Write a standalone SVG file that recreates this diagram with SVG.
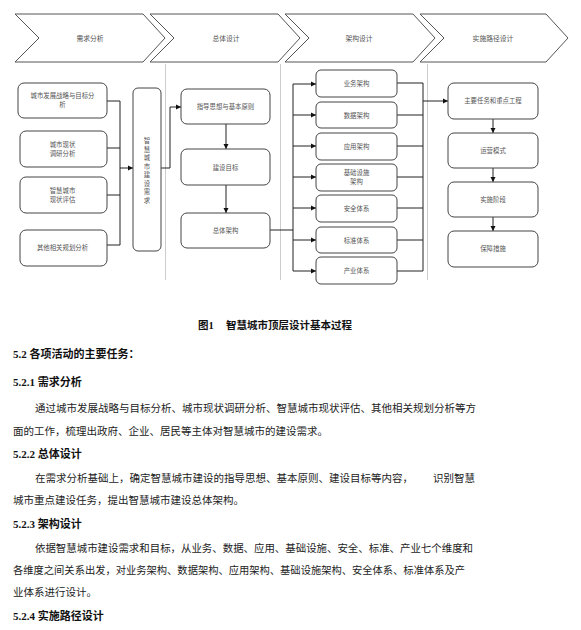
<svg xmlns="http://www.w3.org/2000/svg" width="581" height="630" viewBox="0 0 581 630">
<style>
.chev{fill:#fff;stroke:#555;stroke-width:1}
.box{fill:#fff;stroke:#444;stroke-width:1}
.sep{stroke:#ccc;stroke-width:1;fill:none}
.con{stroke:#222;stroke-width:1;fill:none}
.bt{font-family:"Noto Sans CJK SC","Liberation Sans",sans-serif;font-size:6.4px;fill:#555;text-anchor:middle}
.ct{font-family:"Noto Sans CJK SC","Liberation Sans",sans-serif;font-size:6.8px;fill:#555;text-anchor:middle}
.cap{font-family:"Liberation Serif","Noto Sans CJK SC",serif;font-size:10.5px;font-weight:bold;fill:#111}
.h{font-family:"Liberation Serif","Noto Sans CJK SC",serif;font-size:11px;font-weight:bold;fill:#111}
.p{font-family:"Liberation Serif","Noto Sans CJK SC",serif;font-size:10.5px;fill:#222}
</style>
<defs>
<marker id="ah" markerWidth="6" markerHeight="6" refX="5" refY="3" orient="auto" markerUnits="userSpaceOnUse">
<path d="M0,0.5 L5,3 L0,5.5 Z" fill="#111"/>
</marker>
</defs>
<rect width="581" height="630" fill="#fff"/>
<g id="phases">
<path class="chev" d="M15,14 H143 L165,38 L143,62 H15 L39,38 Z"/>
<path class="chev" d="M150,14 H278 L300,38 L278,62 H150 L174,38 Z"/>
<path class="chev" d="M285,14 H413 L435,38 L413,62 H285 L309,38 Z"/>
<path class="chev" d="M420,14 H546 L568,38 L546,62 H420 L444,38 Z"/>
<text class="ct" x="90" y="40.5">需求分析</text>
<text class="ct" x="226" y="40.5">总体设计</text>
<text class="ct" x="359" y="40.5">架构设计</text>
<text class="ct" x="493" y="40.5">实施路径设计</text>
</g>
<g id="separators">
<line class="sep" x1="165.5" y1="64" x2="165.5" y2="280"/>
<line class="sep" x1="280.5" y1="64" x2="280.5" y2="280"/>
<line class="sep" x1="427.5" y1="64" x2="427.5" y2="280"/>
</g>
<g id="connectors">
<polyline class="con" points="107,101 120,101 120,245 107,245"/>
<line class="con" x1="107" y1="148" x2="120" y2="148"/>
<line class="con" x1="107" y1="195" x2="120" y2="195"/>
<line class="con" x1="120" y1="168" x2="133" y2="168" marker-end="url(#ah)"/>
<polyline class="con" points="161,168 170,168 170,107 181,107" marker-end="url(#ah)"/>
<line class="con" x1="226" y1="124" x2="226" y2="149" marker-end="url(#ah)"/>
<line class="con" x1="226" y1="185" x2="226" y2="213" marker-end="url(#ah)"/>
<line class="con" x1="270" y1="230" x2="293" y2="230"/>
<line class="con" x1="293" y1="84" x2="293" y2="271"/>
<line class="con" x1="293" y1="84" x2="316" y2="84" marker-end="url(#ah)"/>
<line class="con" x1="293" y1="115" x2="316" y2="115" marker-end="url(#ah)"/>
<line class="con" x1="293" y1="146" x2="316" y2="146" marker-end="url(#ah)"/>
<line class="con" x1="293" y1="177" x2="316" y2="177" marker-end="url(#ah)"/>
<line class="con" x1="293" y1="208" x2="316" y2="208" marker-end="url(#ah)"/>
<line class="con" x1="293" y1="240" x2="316" y2="240" marker-end="url(#ah)"/>
<line class="con" x1="293" y1="271" x2="316" y2="271" marker-end="url(#ah)"/>
<line class="con" x1="423" y1="83" x2="423" y2="271"/>
<line class="con" x1="397" y1="83" x2="423" y2="83"/>
<line class="con" x1="397" y1="115" x2="423" y2="115"/>
<line class="con" x1="397" y1="146" x2="423" y2="146"/>
<line class="con" x1="397" y1="177" x2="423" y2="177"/>
<line class="con" x1="397" y1="208" x2="423" y2="208"/>
<line class="con" x1="397" y1="240" x2="423" y2="240"/>
<line class="con" x1="397" y1="271" x2="423" y2="271"/>
<line class="con" x1="423" y1="101" x2="448" y2="101" stroke-width="1.5" marker-end="url(#ah)"/>
<line class="con" x1="493" y1="119" x2="493" y2="133" marker-end="url(#ah)"/>
<line class="con" x1="493" y1="168" x2="493" y2="182" marker-end="url(#ah)"/>
<line class="con" x1="493" y1="217" x2="493" y2="231" marker-end="url(#ah)"/>
</g>
<g id="n-strategy"><rect class="box" x="18" y="83" width="89" height="35" rx="6"/><text class="bt" x="62.5" y="97.5">城市发展战略与目标分</text><text class="bt" x="62.5" y="106.5">析</text></g>
<g id="n-status"><rect class="box" x="20" y="131" width="87" height="36" rx="6"/><text class="bt" x="62.5" y="146.5">城市现状</text><text class="bt" x="62.5" y="155.5">调研分析</text></g>
<g id="n-eval"><rect class="box" x="20" y="177" width="87" height="36" rx="6"/><text class="bt" x="62.5" y="192.5">智慧城市</text><text class="bt" x="62.5" y="201.5">现状评估</text></g>
<g id="n-other"><rect class="box" x="20" y="230" width="87" height="36" rx="6"/><text class="bt" x="62.5" y="250">其他相关规划分析</text></g>
<g id="n-demand"><rect class="box" x="133" y="88" width="28" height="163" rx="5"/>
<text class="bt" x="147" y="143">智</text>
<text class="bt" x="147" y="151.5">慧</text>
<text class="bt" x="147" y="160">城</text>
<text class="bt" x="147" y="168.5">市</text>
<text class="bt" x="147" y="177">建</text>
<text class="bt" x="147" y="185.5">设</text>
<text class="bt" x="147" y="194">需</text>
<text class="bt" x="147" y="202.5">求</text>
</g>
<g id="n-guide"><rect class="box" x="181" y="89" width="89" height="35" rx="6"/><text class="bt" x="225.5" y="109">指导思想与基本原则</text></g>
<g id="n-goal"><rect class="box" x="181" y="149" width="89" height="36" rx="6"/><text class="bt" x="225.5" y="169.5">建设目标</text></g>
<g id="n-overall"><rect class="box" x="181" y="213" width="89" height="35" rx="6"/><text class="bt" x="225.5" y="233">总体架构</text></g>
<g id="n-biz"><rect class="box" x="316" y="70" width="81" height="27" rx="5"/><text class="bt" x="356.5" y="86">业务架构</text></g>
<g id="n-data"><rect class="box" x="316" y="102" width="81" height="26" rx="5"/><text class="bt" x="356.5" y="117.5">数据架构</text></g>
<g id="n-app"><rect class="box" x="316" y="133" width="81" height="27" rx="5"/><text class="bt" x="356.5" y="149">应用架构</text></g>
<g id="n-infra"><rect class="box" x="316" y="164" width="81" height="27" rx="5"/><text class="bt" x="356.5" y="175">基础设施</text><text class="bt" x="356.5" y="184">架构</text></g>
<g id="n-sec"><rect class="box" x="316" y="195" width="81" height="27" rx="5"/><text class="bt" x="356.5" y="211">安全体系</text></g>
<g id="n-std"><rect class="box" x="316" y="227" width="81" height="26" rx="5"/><text class="bt" x="356.5" y="242.5">标准体系</text></g>
<g id="n-ind"><rect class="box" x="316" y="257" width="81" height="27" rx="5"/><text class="bt" x="356.5" y="273">产业体系</text></g>
<g id="n-task"><rect class="box" x="448" y="83" width="90" height="36" rx="6"/><text class="bt" x="493" y="103">主要任务和重点工程</text></g>
<g id="n-ops"><rect class="box" x="448" y="133" width="90" height="35" rx="6"/><text class="bt" x="493" y="153">运营模式</text></g>
<g id="n-phase"><rect class="box" x="448" y="182" width="90" height="35" rx="6"/><text class="bt" x="493" y="202">实施阶段</text></g>
<g id="n-guar"><rect class="box" x="448" y="231" width="90" height="36" rx="6"/><text class="bt" x="493" y="251">保障措施</text></g>
<g id="text">
<text class="cap" x="198" y="329">图1<tspan x="226">智慧城市顶层设计基本过程</tspan></text>
<text class="h" x="13" y="358">5.2 各项活动的主要任务：</text>
<text class="h" x="13" y="386">5.2.1 需求分析</text>
<text class="p" x="35" y="412" textLength="441" lengthAdjust="spacingAndGlyphs">通过城市发展战略与目标分析、城市现状调研分析、智慧城市现状评估、其他相关规划分析等方</text>
<text class="p" x="13" y="435">面的工作，梳理出政府、企业、居民等主体对智慧城市的建设需求。</text>
<text class="h" x="13" y="458">5.2.2 总体设计</text>
<text class="p" x="35" y="482">在需求分析基础上，确定智慧城市建设的指导思想、基本原则、建设目标等内容，<tspan x="433">识别智慧</tspan></text>
<text class="p" x="13" y="504">城市重点建设任务，提出智慧城市建设总体架构。</text>
<text class="h" x="13" y="528">5.2.3 架构设计</text>
<text class="p" x="35" y="552" textLength="438" lengthAdjust="spacingAndGlyphs">依据智慧城市建设需求和目标，从业务、数据、应用、基础设施、安全、标准、产业七个维度和</text>
<text class="p" x="13" y="574" textLength="452" lengthAdjust="spacingAndGlyphs">各维度之间关系出发，对业务架构、数据架构、应用架构、基础设施架构、安全体系、标准体系及产</text>
<text class="p" x="13" y="596">业体系进行设计。</text>
<text class="h" x="13" y="620">5.2.4 实施路径设计</text>
</g>
</svg>
